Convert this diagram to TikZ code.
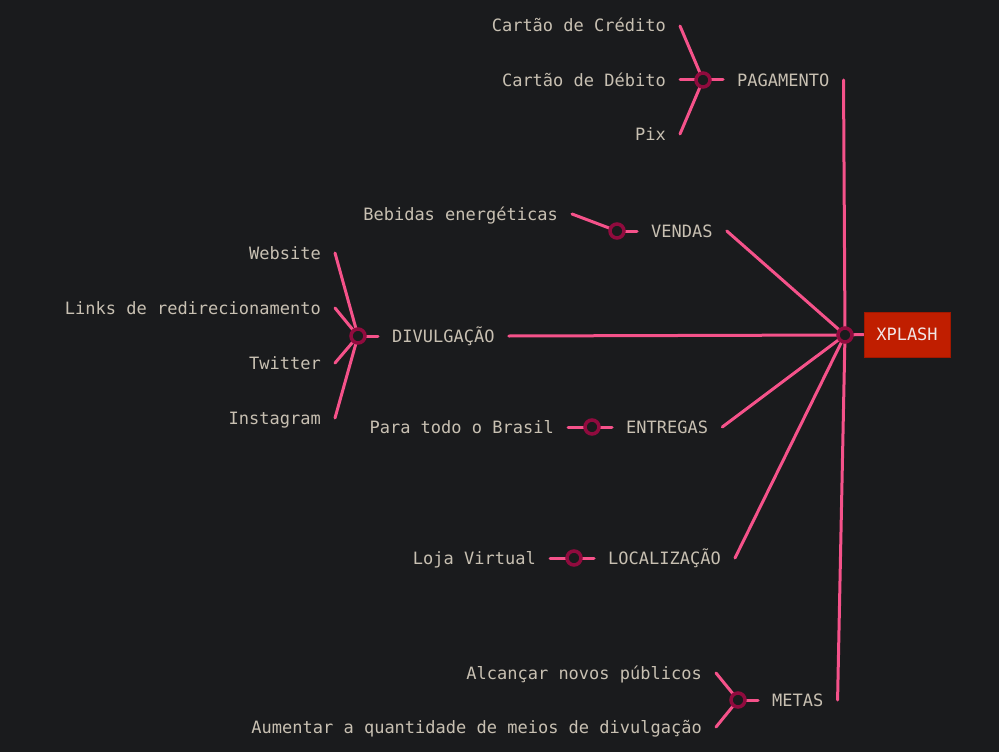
\documentclass[tikz,border=0pt]{standalone}
\usepackage{fontspec}
\setmonofont{DejaVu Sans Mono}
\usetikzlibrary{calc}
\definecolor{bgc}{HTML}{1A1B1D}
\definecolor{pinkline}{HTML}{F5528A}
\definecolor{ringc}{HTML}{900B3E}
\definecolor{txtc}{HTML}{C8C0B2}
\definecolor{boxred}{HTML}{C01E00}
\definecolor{boxedge}{HTML}{A01800}
\definecolor{boxtxt}{HTML}{F2E6E6}
\pgfdeclarelayer{back}
\pgfdeclarelayer{mid}
\pgfsetlayers{back,mid,main}
\tikzset{
  lbl/.style={font=\ttfamily\fontsize{17}{20}\selectfont, text=txtc, inner xsep=14pt, inner ysep=0pt, text height=12pt, text depth=0pt},
  leftlbl/.style={lbl, anchor=east},
  catlbl/.style={lbl, anchor=west},
  ring/.style={circle, draw=ringc, fill=bgc, line width=3.5pt, minimum size=14pt, inner sep=0pt},
  conn/.style={draw=pinkline, line width=3pt, line cap=round},
  rootbox/.style={draw=boxedge, fill=boxred, line width=1pt, minimum width=86pt, minimum height=45pt, inner sep=0pt, font=\ttfamily\fontsize{17}{20}\selectfont, text=boxtxt}
}
\begin{document}
\begin{tikzpicture}[x=1pt,y=-1pt]
\begin{pgfonlayer}{back}
\fill[bgc] (0,0) rectangle (999,752);
\end{pgfonlayer}
\useasboundingbox (0,0) rectangle (999,752);

% hub and root
\node[ring] (hub) at (845,335) {};
\node[rootbox] (root) at (907,334.5) {XPLASH};

% PAGAMENTO
\node[ring] (pc) at (703,80) {};
\node[catlbl] (pag) at (723,80) {PAGAMENTO};
\node[leftlbl] (p1) at (680,26) {Cartão de Crédito};
\node[leftlbl] (p2) at (680,80) {Cartão de Débito};
\node[leftlbl] (p3) at (680,134) {Pix};

% VENDAS
\node[ring] (vc) at (617,231) {};
\node[catlbl] (ven) at (637,231) {VENDAS};
\node[leftlbl] (v1) at (572,214) {Bebidas energéticas};

% DIVULGACAO
\node[ring] (dc) at (358,336) {};
\node[catlbl] (div) at (378,336) {DIVULGAÇÃO};
\node[leftlbl] (d1) at (335,253) {Website};
\node[leftlbl] (d2) at (335,308) {Links de redirecionamento};
\node[leftlbl] (d3) at (335,363) {Twitter};
\node[leftlbl] (d4) at (335,418) {Instagram};

% ENTREGAS
\node[ring] (ec) at (592,427) {};
\node[catlbl] (ent) at (612,427) {ENTREGAS};
\node[leftlbl] (e1) at (568,427) {Para todo o Brasil};

% LOCALIZACAO
\node[ring] (lc) at (574,558) {};
\node[catlbl] (loc) at (594,558) {LOCALIZAÇÃO};
\node[leftlbl] (l1) at (550,558) {Loja Virtual};

% METAS
\node[ring] (mc) at (738,700) {};
\node[catlbl] (met) at (758,700) {METAS};
\node[leftlbl] (m1) at (716,673) {Alcançar novos públicos};
\node[leftlbl] (m2) at (716,727) {Aumentar a quantidade de meios de divulgação};

\begin{pgfonlayer}{mid}
\path[conn] (hub.center) -- (root.west);
\path[conn] (pag.east) -- (hub.center);
\path[conn] (ven.east) -- (hub.center);
\path[conn] (div.east) -- (hub.center);
\path[conn] (ent.east) -- (hub.center);
\path[conn] (loc.east) -- (hub.center);
\path[conn] (met.east) -- (hub.center);

\path[conn] (pc.center) -- (pag.west);
\path[conn] (p1.east) -- (pc.center);
\path[conn] (p2.east) -- (pc.center);
\path[conn] (p3.east) -- (pc.center);

\path[conn] (vc.center) -- (ven.west);
\path[conn] (v1.east) -- (vc.center);

\path[conn] (dc.center) -- (div.west);
\path[conn] (d1.east) -- (dc.center);
\path[conn] (d2.east) -- (dc.center);
\path[conn] (d3.east) -- (dc.center);
\path[conn] (d4.east) -- (dc.center);

\path[conn] (ec.center) -- (ent.west);
\path[conn] (e1.east) -- (ec.center);

\path[conn] (lc.center) -- (loc.west);
\path[conn] (l1.east) -- (lc.center);

\path[conn] (mc.center) -- (met.west);
\path[conn] (m1.east) -- (mc.center);
\path[conn] (m2.east) -- (mc.center);
\end{pgfonlayer}
\end{tikzpicture}
\end{document}
